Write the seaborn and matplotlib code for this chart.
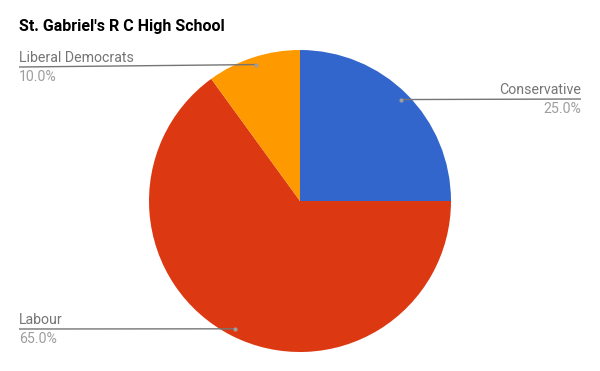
import numpy as np
import matplotlib
matplotlib.use("Agg")
import matplotlib.pyplot as plt
import seaborn as sns

title = "St. Gabriel's R C High School"
parties = ["Conservative", "Labour", "Liberal Democrats"]
shares = [25.0, 65.0, 10.0]
colors = ["#3366CC", "#DC3912", "#FF9900"]

sns.set_theme(style="white")
plt.rcParams["font.family"] = ["Roboto", "DejaVu Sans"]

W, H = 600, 371
fig = plt.figure(figsize=(W / 100, H / 100), dpi=100)
ax = fig.add_axes([0, 0, 1, 1])

cx, cy, R = 300, H - 201, 151
wedges, _ = ax.pie(shares, colors=colors, startangle=90, counterclock=False,
                   center=(cx, cy), radius=R,
                   wedgeprops=dict(linewidth=0))
ax.set_xlim(0, W)
ax.set_ylim(0, H)
ax.set_aspect("equal")
ax.axis("off")

fig.text(19 / W, 1 - 27 / H, title, fontsize=11.5, fontweight="bold",
         color="#000000", ha="left", va="center")

line_c = "#757575"
# label layout: (side, line end x, line end y from top)
layout = {
    "Conservative": ("right", 581, 99),
    "Labour": ("left", 19, 329),
    "Liberal Democrats": ("left", 19, 67),
}
for w, name, val in zip(wedges, parties, shares):
    mid = np.deg2rad((w.theta1 + w.theta2) / 2)
    px = cx + 0.95 * R * np.cos(mid)
    py = cy + 0.95 * R * np.sin(mid)
    side, ex, ey = layout[name]
    ey = H - ey
    ax.plot([px, ex], [py, ey], color=line_c, lw=1, solid_capstyle="butt")
    ax.plot([px], [py], marker="o", ms=3, color="#9e9e9e", mec="none")
    ha = "right" if side == "right" else "left"
    ax.text(ex, ey + 9, name, fontsize=10.2, color="#757575", ha=ha, va="center")
    ax.text(ex, ey - 10, f"{val:.1f}%", fontsize=10.2, color="#9e9e9e",
            ha=ha, va="center")

fig.savefig("out.png", dpi=100, facecolor="white")
